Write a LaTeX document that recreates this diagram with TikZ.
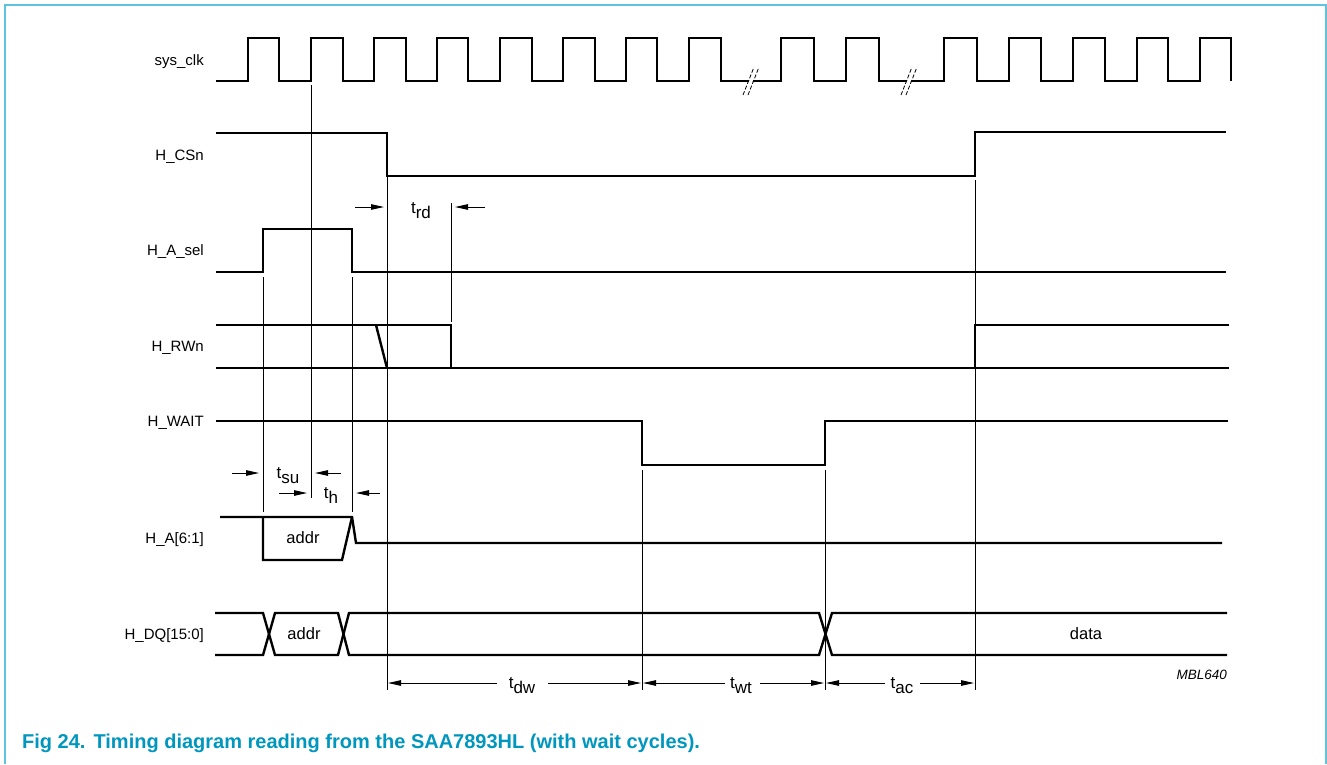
\documentclass[tikz,border=0pt]{standalone}
\usepackage{fontspec}
\setmainfont{Liberation Sans}
\usetikzlibrary{arrows.meta}
\definecolor{framecyan}{RGB}{95,195,222}
\definecolor{captionblue}{RGB}{0,150,190}
\begin{document}
\begin{tikzpicture}[x=1pt,y=-1pt,
  sig/.style={line width=2.4pt, line join=miter, line cap=butt},
  guide/.style={line width=0.9pt},
  dimarrow/.style={line width=0.9pt,-{Triangle[length=13pt,width=5.5pt]}},
  lbl/.style={anchor=base east,font=\fontsize{15}{17}\selectfont,inner sep=0pt},
  txt/.style={anchor=base,font=\fontsize{16.5}{19}\selectfont,inner sep=0pt},
  tlbl/.style={anchor=base,font=\fontsize{17}{20}\selectfont,inner sep=0pt},
  brk/.style={line width=0.8pt,dash pattern=on 4pt off 2pt}]
\useasboundingbox (0,0) rectangle (1327,764);
% frame
\draw[framecyan,line width=2.5pt] (4,5) -- (1326.5,5);
\draw[framecyan,line width=1.4pt] (5,5) -- (5,764);
\draw[framecyan,line width=2pt] (1325.5,5) -- (1325.5,764);
% labels
\node[lbl] (lclk) at (204,65) {sys\_clk};
\node[lbl] (lcs) at (204,160) {H\_CSn};
\node[lbl] (lasel) at (204,255) {H\_A\_sel};
\node[lbl] (lrw) at (204,351) {H\_RWn};
\node[lbl] (lwait) at (204,426) {H\_WAIT};
\node[lbl] (la) at (204,543) {H\_A[6:1]};
\node[lbl] (ldq) at (204,639) {H\_DQ[15:0]};
% sys_clk
\draw[sig] (216,81) -- (248,81) -- (248,38) -- (279,38) -- (279,81) -- (311,81) -- (311,38) -- (343,38) -- (343,81) -- (374,81) -- (374,38) -- (406,38) -- (406,81) -- (437,81) -- (437,38) -- (468,38) -- (468,81) -- (500,81) -- (500,38) -- (532,38) -- (532,81) -- (563,81) -- (563,38) -- (595,38) -- (595,81) -- (626,81) -- (626,38) -- (657,38) -- (657,81) -- (689,81) -- (689,38) -- (721,38) -- (721,81) -- (781,81) -- (781,38) -- (814,38) -- (814,81) -- (846,81) -- (846,38) -- (879,38) -- (879,81) -- (944,81) -- (944,38) -- (977,38) -- (977,81) -- (1009,81) -- (1009,38) -- (1041,38) -- (1041,81) -- (1073,81) -- (1073,38) -- (1105,38) -- (1105,81) -- (1137,81) -- (1137,38) -- (1168,38) -- (1168,81) -- (1200,81) -- (1200,38) -- (1231,38) -- (1231,81);
% break marks
\foreach \bx in {751,909}{
  \draw[white,line width=3.5pt] (\bx-5,92) -- (\bx+5,70);
  \draw[brk] (\bx-8,95) -- (\bx+3,67);
  \draw[brk] (\bx-3,95) -- (\bx+8,67);
}
% H_CSn
\draw[sig] (216,133) -- (387,133) -- (387,176) -- (975,176) -- (975,132) -- (1226,132);
% H_A_sel
\draw[sig] (216,272) -- (263,272) -- (263,229) -- (352,229) -- (352,272) -- (1226,272);
% H_RWn
\draw[sig] (216,325) -- (451,325) -- (451,368);
\draw[sig] (216,368) -- (975,368) -- (975,325) -- (1229,325);
\draw[sig] (975,368) -- (1229,368);
\draw[sig] (376,325) -- (387,368);
% H_WAIT
\draw[sig] (216,421) -- (642,421) -- (642,465) -- (825,465) -- (825,421) -- (1228,421);
% H_A[6:1]
\draw[sig] (220,517) -- (352,517) -- (356,543) -- (1222,543);
\draw[sig] (263,517) -- (263,560) -- (342,560) -- (352,517);
\node[txt] (aaddr) at (303,543) {addr};
% H_DQ
\draw[sig] (215,613) -- (263,613) -- (275,655) -- (338,655) -- (349,613) -- (819,613) -- (832,655) -- (1227,655);
\draw[sig] (215,655) -- (263,655) -- (275,613) -- (338,613) -- (349,655) -- (819,655) -- (832,613) -- (1227,613);
\node[txt] (dqaddr) at (304,639) {addr};
\node[txt] (data) at (1086,639) {data};
\node[anchor=base east,font=\itshape\fontsize{13.5}{16}\selectfont,inner sep=0pt] (mbl) at (1227,679) {MBL640};
% guide lines
\draw[guide] (311,85) -- (311,498);
\draw[guide] (263,277) -- (263,512);
\draw[guide] (352,277) -- (352,512);
\draw[guide] (387,176) -- (387,690);
\draw[guide] (451,203) -- (451,322);
\draw[guide] (642,470) -- (642,690);
\draw[guide] (825,470) -- (825,690);
\draw[guide] (975,180) -- (975,690);
% t_rd
\draw[dimarrow] (355,207) -- (384,207);
\draw[dimarrow] (485,207) -- (455,207);
\node[tlbl] (trd) at (421,213) {t\raisebox{-5pt}{rd}};
% t_su, t_h
\draw[dimarrow] (232,473) -- (259,473);
\draw[dimarrow] (341,473) -- (315,473);
\node[tlbl] (tsu) at (288,478) {t\raisebox{-5pt}{su}};
\draw[dimarrow] (279,493) -- (307,493);
\draw[dimarrow] (380,493) -- (356,493);
\node[tlbl] (th) at (331,498) {t\raisebox{-5pt}{h}};
% bottom dimensions
\draw[dimarrow] (497,683) -- (388,683);
\draw[dimarrow] (548,683) -- (641,683);
\node[tlbl] (tdw) at (522,688) {t\raisebox{-5pt}{dw}};
\draw[dimarrow] (725,683) -- (643,683);
\draw[dimarrow] (760,683) -- (824,683);
\node[tlbl] (twt) at (741,688) {t\raisebox{-5pt}{wt}};
\draw[dimarrow] (885,683) -- (826,683);
\draw[dimarrow] (920,683) -- (974,683);
\node[tlbl] (tac) at (902,688) {t\raisebox{-5pt}{ac}};
% caption
\node[anchor=base west,font=\bfseries\fontsize{20}{24}\selectfont,text=captionblue,inner sep=0pt] (cap) at (22,748) {Fig 24.\hspace{8pt}Timing diagram reading from the SAA7893HL (with wait cycles).};
\end{tikzpicture}
\end{document}
